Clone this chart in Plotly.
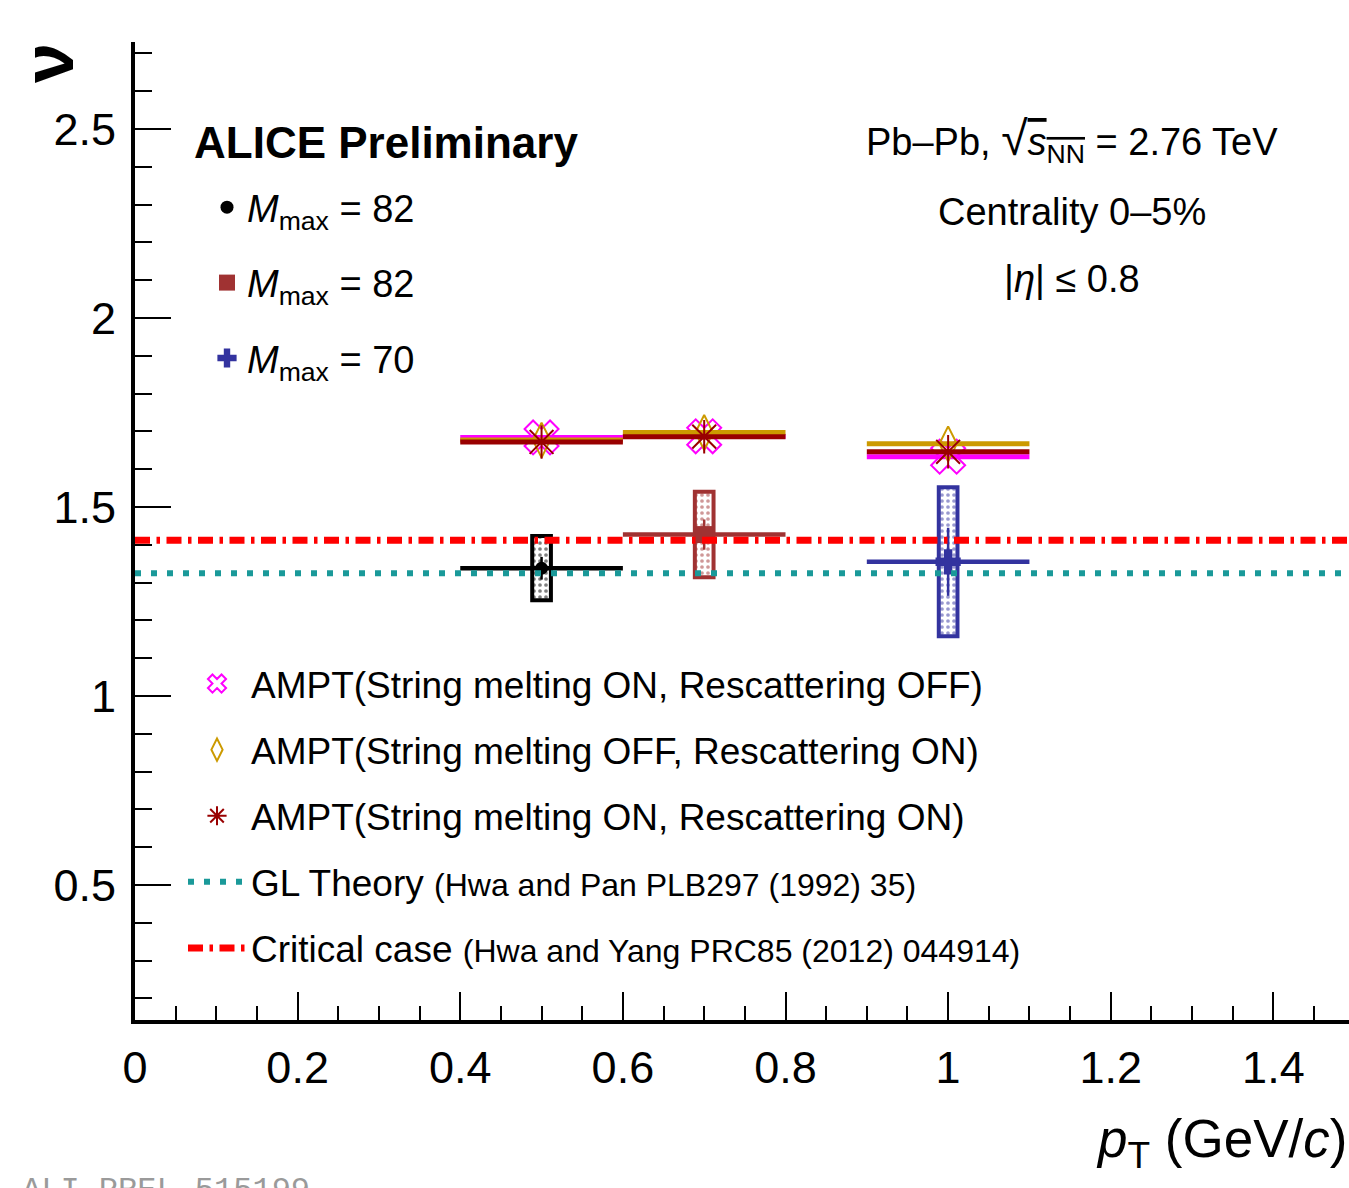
import plotly.graph_objects as go

# Transverse-momentum bins (GeV/c): centres and half-widths
pt = [0.5, 0.7, 1.0]
pt_half = [0.1, 0.1, 0.1]

# ALICE scaling exponent nu, with statistical and systematic uncertainties
nu_alice = [1.338, 1.427, 1.355]
nu_stat = [0.03, 0.04, 0.09]
nu_sys = [0.085, 0.113, 0.197]
mmax_labels = ["82", "82", "70"]
alice_colors = ["#000000", "#a03232", "#33339f"]
alice_symbols = ["circle", "square", "cross"]
alice_sizes = [13, 17, 21]

# AMPT model results
ampt_names = [
    "AMPT(String melting ON, Rescattering OFF)",
    "AMPT(String melting OFF, Rescattering ON)",
    "AMPT(String melting ON, Rescattering ON)",
]
ampt_nu = [
    [1.684, 1.687, 1.633],
    [1.677, 1.697, 1.667],
    [1.672, 1.686, 1.646],
]
ampt_colors = ["#ff00ff", "#cc9a00", "#990000"]
ampt_symbols = ["x-open", "diamond-tall-open", "asterisk-open"]
ampt_sizes = [30, 25, 28]

# Theory reference values
nu_gl = 1.325
nu_critical = 1.412

x_range = [0, 1.493]
y_range = [0.143, 2.73]

FONT = "Liberation Sans, Arial, sans-serif"

W, H = 1349, 1188
ML, MR, MT, MB = 135, 0, 42, 168
PW, PH = W - ML - MR, H - MT - MB


def px_x(p):
    return (p - ML) / PW


def px_y(p):
    return (H - MB - p) / PH


fig = go.Figure()

# systematic-uncertainty boxes
for i in range(len(pt)):
    fig.add_trace(go.Bar(
        x=[pt[i]], y=[2 * nu_sys[i]], base=[nu_alice[i] - nu_sys[i]],
        width=0.023,
        marker=dict(
            color="white",
            line=dict(color=alice_colors[i], width=4),
            pattern=dict(shape=".", fgcolor=alice_colors[i], bgcolor="white",
                         size=6, solidity=0.3),
        ),
        showlegend=False, hoverinfo="skip",
    ))

# AMPT points with bin-width bars
for k in range(len(ampt_names)):
    fig.add_trace(go.Scatter(
        x=pt, y=ampt_nu[k], mode="markers",
        name=ampt_names[k],
        marker=dict(symbol=ampt_symbols[k], size=ampt_sizes[k],
                    color=ampt_colors[k], line=dict(color=ampt_colors[k], width=2)),
        error_x=dict(type="data", array=pt_half, color=ampt_colors[k],
                     thickness=5, width=0),
        legend="legend2", legendgroup="ampt%d" % k,
    ))

# ALICE data points
for i in range(len(pt)):
    fig.add_trace(go.Scatter(
        x=[pt[i]], y=[nu_alice[i]], mode="markers",
        name="<i>M</i><sub>max</sub> = " + mmax_labels[i],
        marker=dict(symbol=alice_symbols[i], size=alice_sizes[i],
                    color=alice_colors[i]),
        error_x=dict(type="data", array=[pt_half[i]], color=alice_colors[i],
                     thickness=4.5, width=0),
        error_y=dict(type="data", array=[nu_stat[i]], color=alice_colors[i],
                     thickness=2.5, width=0),
        legend="legend", legendgroup="alice%d" % i,
    ))

# theory lines
fig.add_trace(go.Scatter(
    x=[0, 1.5], y=[nu_gl, nu_gl], mode="lines",
    name="GL Theory <span style='font-size:32px'>(Hwa and Pan PLB297 (1992) 35)</span>",
    line=dict(color="#1a9999", width=6, dash="6px,10px"),
    legend="legend2", legendgroup="gl",
))
fig.add_trace(go.Scatter(
    x=[0, 1.5], y=[nu_critical, nu_critical], mode="lines",
    name="Critical case <span style='font-size:32px'>(Hwa and Yang PRC85 (2012) 044914)</span>",
    line=dict(color="#ff0000", width=7, dash="15px,6.5px,3.5px,6.5px"),
    legend="legend2", legendgroup="crit",
))

tick_font = dict(family=FONT, size=45, color="black")
minor_x = dict(ticks="inside", ticklen=14, tickwidth=2, tickcolor="black", dtick=0.05, showgrid=False)
minor_y = dict(ticks="inside", ticklen=17, tickwidth=2, tickcolor="black", dtick=0.1, showgrid=False)

fig.update_layout(
    width=W, height=H,
    margin=dict(l=ML, r=MR, t=MT, b=MB),
    paper_bgcolor="white", plot_bgcolor="white",
    barmode="overlay",
    font=dict(family=FONT, color="black"),
    xaxis=dict(range=x_range, dtick=0.2, tick0=0, ticks="inside", ticklen=28, tickwidth=2,
               tickcolor="black", showline=True, linecolor="black", linewidth=4,
               showgrid=False, zeroline=False, tickfont=tick_font, ticklabelstandoff=5,
               minor=minor_x),
    yaxis=dict(range=y_range, dtick=0.5, tick0=0, ticks="inside", ticklen=36, tickwidth=2,
               tickcolor="black", showline=True, linecolor="black", linewidth=4,
               showgrid=False, zeroline=False, tickfont=tick_font, ticklabelstandoff=6,
               minor=minor_y),
    xaxis2=dict(range=x_range, overlaying="x", side="top", anchor="y", dtick=0.2, tick0=0,
                ticks="inside", ticklen=28, tickwidth=2, tickcolor="black",
                showline=True, linecolor="#888888", linewidth=1, showgrid=False,
                zeroline=False, showticklabels=False, minor=minor_x),
    yaxis2=dict(range=y_range, overlaying="y", side="right", anchor="x", dtick=0.5, tick0=0,
                ticks="inside", ticklen=34, tickwidth=2, tickcolor="black",
                showline=False, showgrid=False, zeroline=False, showticklabels=False,
                minor=minor_y),
    legend=dict(x=px_x(207), y=px_y(176), xanchor="left", yanchor="top",
                bgcolor="rgba(0,0,0,0)", font=dict(family=FONT, size=38, color="black"),
                itemwidth=30, tracegroupgap=23),
    legend2=dict(x=px_x(183), y=px_y(653), xanchor="left", yanchor="top",
                 bgcolor="rgba(0,0,0,0)", font=dict(family=FONT, size=37, color="black"),
                 itemwidth=58, tracegroupgap=15),
)

annotations = [
    dict(text="<b>ALICE Preliminary</b>", x=px_x(192), y=px_y(142), xanchor="left",
         yanchor="middle", font=dict(family=FONT, size=44)),
    dict(text="Pb\u2013Pb, <span style='font-size:48px'>\u221a</span>"
              "<span style='text-decoration:overline'><i>s</i><sub>NN</sub></span> = 2.76 TeV",
         x=px_x(1072), y=px_y(140), xanchor="center", yanchor="middle",
         font=dict(family=FONT, size=38)),
    dict(text="Centrality 0\u20135%", x=px_x(1072), y=px_y(212), xanchor="center",
         yanchor="middle", font=dict(family=FONT, size=38)),
    dict(text="|<i>\u03b7</i>| \u2264 0.8", x=px_x(1072), y=px_y(279), xanchor="center",
         yanchor="middle", font=dict(family=FONT, size=38)),
    dict(text="<i>p</i><sub>T</sub> (GeV/<i>c</i>)", x=px_x(1349), y=px_y(1142),
         xanchor="right", yanchor="middle", font=dict(family=FONT, size=53)),
    dict(text="<b>\u03bd</b>", x=px_x(48), y=px_y(63), xanchor="center", yanchor="middle",
         textangle=-90, font=dict(family=FONT, size=72)),
    dict(text="ALI-PREL-515199", x=px_x(20), y=px_y(1170), xanchor="left", yanchor="top",
         font=dict(family="Liberation Mono, DejaVu Sans Mono, monospace", size=32,
                   color="#9a9a9a")),
]
for a in annotations:
    a.update(xref="paper", yref="paper", showarrow=False)
fig.update_layout(annotations=annotations)

fig.write_html("out.html")
